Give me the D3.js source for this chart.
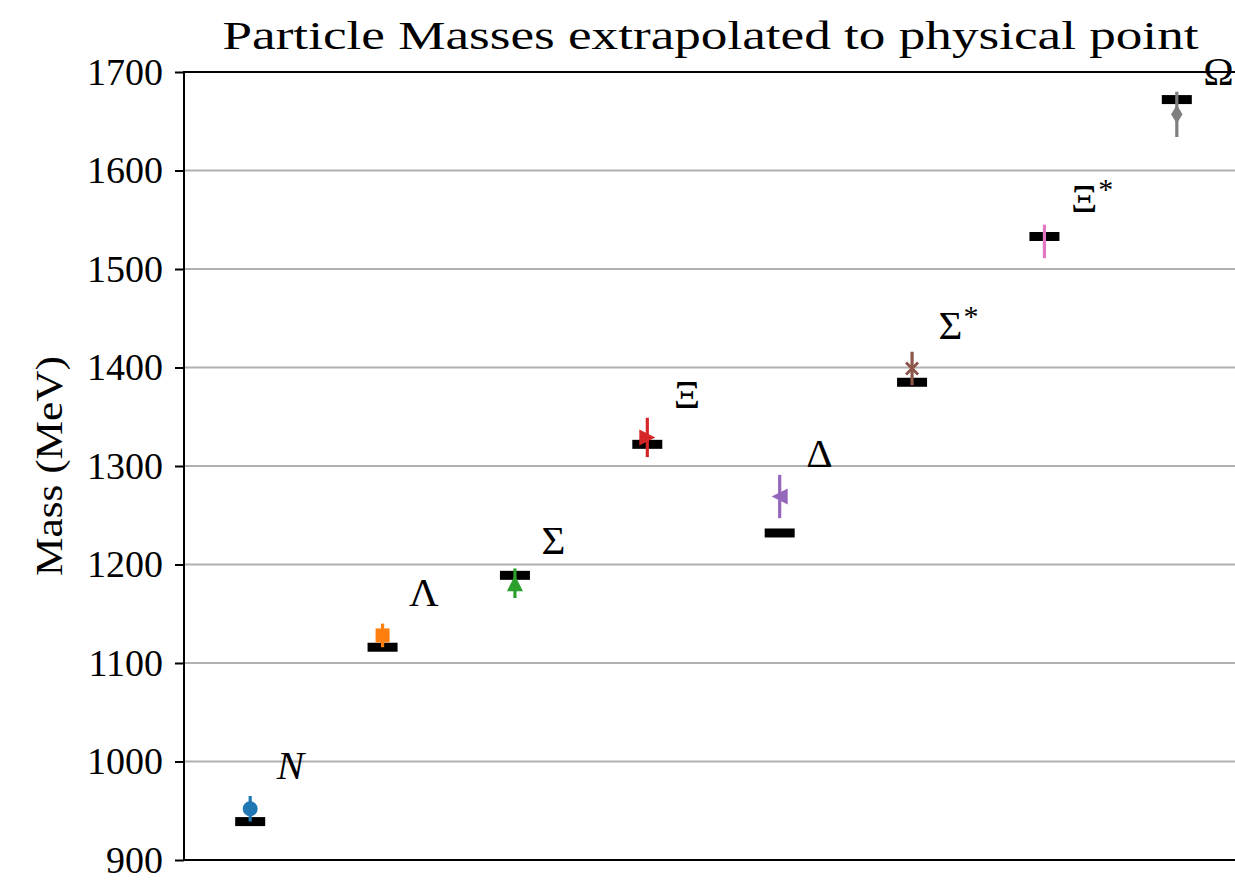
<!DOCTYPE html>
<html>
<head>
<meta charset="utf-8">
<script src="https://cdn.jsdelivr.net/npm/d3@7"></script>
<style>
  body { margin: 0; background: #fff; }
  svg { display: block; }
  svg text { font-family: "Liberation Serif", "Times New Roman", Tinos, serif; }
</style>
</head>
<body>
<svg id="chart" width="1235" height="882"></svg>
<script>
// particle names, physical (PDG) masses and extrapolated masses with errors
const particles = ["N", "Λ", "Σ", "Ξ", "Δ", "Σ*", "Ξ*", "Ω"];
const physical  = [939, 1116, 1189, 1322, 1232, 1385, 1533, 1672];
const computed  = [952, 1128, 1181, 1329, 1269, 1399, 1528, 1657];
const errors    = [13, 12, 15, 20, 22, 17, 17, 23];
const markers   = ["o", "s", "^", ">", "<", "x", "|", "d"];
const colors    = ["#1f77b4", "#ff7f0e", "#2ca02c", "#d62728", "#9467bd", "#8c564b", "#e377c2", "#7f7f7f"];
const yTicks    = [900, 1000, 1100, 1200, 1300, 1400, 1500, 1600, 1700];

const svg = d3.select("#chart");
const margin = {top: 72, left: 184, bottom: 22, right: -8};
const width = 1235, height = 882;

const x = d3.scaleLinear().domain([-0.5, 7.5]).range([margin.left, width - margin.right]);
const y = d3.scaleLinear().domain([900, 1700]).range([height - margin.bottom, margin.top]);

// grid
svg.append("g")
   .selectAll("line")
   .data(yTicks)
   .join("line")
   .attr("x1", x(-0.5)).attr("x2", x(7.5))
   .attr("y1", d => y(d)).attr("y2", d => y(d))
   .attr("stroke", "#b0b0b0")
   .attr("stroke-width", 2);

// y axis
const yAxis = svg.append("g")
   .attr("transform", `translate(${x(-0.5)},0)`)
   .call(d3.axisLeft(y).tickValues(yTicks).tickFormat(d3.format("d"))
           .tickSize(9).tickPadding(12).tickSizeOuter(0));
yAxis.attr("font-family", null);
yAxis.select(".domain").remove();
yAxis.selectAll(".tick line").attr("stroke", "#000").attr("stroke-width", 2);
yAxis.selectAll(".tick text")
     .attr("font-size", 38)
     .attr("fill", "#000");

// spines
svg.append("rect")
   .attr("x", x(-0.5)).attr("y", y(1700))
   .attr("width", x(7.5) - x(-0.5)).attr("height", y(900) - y(1700))
   .attr("stroke", "#000").attr("stroke-width", 2).attr("fill", "none");

// physical masses (black bars)
svg.append("g")
   .selectAll("rect")
   .data(physical)
   .join("rect")
   .attr("x", (d, i) => x(i) - 15)
   .attr("y", d => y(d) - 4.5)
   .attr("width", 30)
   .attr("height", 9)
   .attr("fill", "#000");

// error bars
svg.append("g")
   .selectAll("line")
   .data(computed)
   .join("line")
   .attr("x1", (d, i) => x(i)).attr("x2", (d, i) => x(i))
   .attr("y1", (d, i) => y(d - errors[i]))
   .attr("y2", (d, i) => y(d + errors[i]))
   .attr("stroke", (d, i) => colors[i])
   .attr("stroke-width", 3.2);

// markers
function markerPath(m, s) {
  const h = s / 2;
  switch (m) {
    case "o": return d3.symbol(d3.symbolCircle, Math.PI * h * h)();
    case "s": return `M${-h},${-h}H${h}V${h}H${-h}Z`;
    case "^": return `M0,${-h}L${h},${h}L${-h},${h}Z`;
    case ">": return `M${h},0L${-h},${-h}L${-h},${h}Z`;
    case "<": return `M${-h},0L${h},${-h}L${h},${h}Z`;
    case "d": return `M0,${-h}L${h * 0.6},0L0,${h}L${-h * 0.6},0Z`;
  }
  return "";
}

const mk = svg.append("g");
computed.forEach((v, i) => {
  const m = markers[i], c = colors[i];
  const g = mk.append("g").attr("transform", `translate(${x(i)},${y(v)})`);
  if (m === "x") {
    g.append("path").attr("d", "M-6,-6L6,6M-6,6L6,-6")
     .attr("stroke", c).attr("stroke-width", 3).attr("fill", "none");
  } else if (m === "|") {
    g.append("path").attr("d", "M0,-8V8")
     .attr("stroke", c).attr("stroke-width", 3).attr("fill", "none");
  } else {
    const s = m === "o" ? 15 : (m === "s" ? 14 : (m === "d" ? 19 : 16));
    g.append("path").attr("d", markerPath(m, s)).attr("fill", c);
  }
});

// particle labels
const lab = svg.append("g").attr("font-size", 41).attr("fill", "#000");
particles.forEach((p, i) => {
  const t = lab.append("text")
     .attr("x", x(i + 0.2))
     .attr("y", y(computed[i] + 30));
  if (p === "N") {
    t.attr("font-style", "italic").text(p);
  } else if (p.endsWith("*")) {
    t.append("tspan").text(p[0]);
    t.append("tspan").attr("font-size", 30).attr("dy", -13).attr("dx", 1).text("*");
  } else {
    t.text(p);
  }
});

// title
svg.append("text")
   .attr("x", (x(-0.5) + x(7.5)) / 2 - 3)
   .attr("y", 49)
   .attr("text-anchor", "middle")
   .attr("font-size", 40)
   .attr("textLength", 976)
   .attr("lengthAdjust", "spacingAndGlyphs")
   .text("Particle Masses extrapolated to physical point");

// y label
svg.append("text")
   .attr("transform", `translate(62,${(y(900) + y(1700)) / 2}) rotate(-90)`)
   .attr("text-anchor", "middle")
   .attr("font-size", 38)
   .attr("textLength", 220)
   .attr("lengthAdjust", "spacingAndGlyphs")
   .text("Mass (MeV)");
</script>
</body>
</html>
